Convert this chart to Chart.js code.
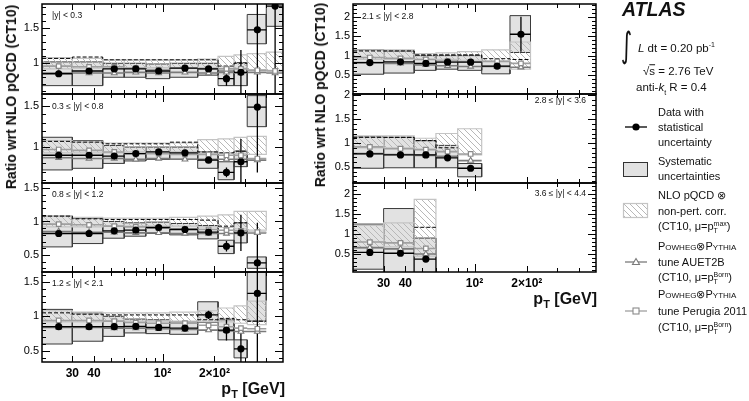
<!DOCTYPE html>
<html>
<head>
<meta charset="utf-8">
<script src="https://cdn.jsdelivr.net/npm/chart.js@4.4.1/dist/chart.umd.min.js"></script>
<style>
  body { margin: 0; background: #fff; overflow: hidden; }
  #wrap { position: relative; width: 749px; height: 401px; font-family: "Liberation Sans", Arial, sans-serif; color: #111; }
  canvas { position: absolute; }
  .t { position: absolute; white-space: nowrap; transform: translateY(-50%); line-height: 1; }
  .ytitle { position: absolute; white-space: nowrap; font-weight: bold; font-size: 14px; transform: translate(-50%, -50%) rotate(-90deg); }
  .xtitle { position: absolute; white-space: nowrap; font-weight: bold; font-size: 16px; text-align: right; }
  .xtitle sub { font-size: 11px; vertical-align: -4px; }
  .plab { font-size: 8.5px; }
  .leg { font-size: 11px; left: 658px; }
  .sc { font-variant: small-caps; }
  .ss { display: inline-flex; flex-direction: column; font-size: 7px; line-height: 7px; vertical-align: 4px; }
</style>
</head>
<body>
<div id="wrap">
  <div class="ytitle" style="left:11px;top:97px">Ratio wrt NLO pQCD (CT10)</div>
  <div class="ytitle" style="left:320px;top:95px">Ratio wrt NLO pQCD (CT10)</div>
  <div class="xtitle" style="left:185px;top:380px;width:100px">p<sub>T</sub> [GeV]</div>
  <div class="xtitle" style="left:497px;top:290px;width:100px">p<sub>T</sub> [GeV]</div>

  <div class="t plab" style="left:52px;top:15px">|y| &lt; 0.3</div>
  <div class="t plab" style="left:52px;top:106px">0.3 ≤ |y| &lt; 0.8</div>
  <div class="t plab" style="left:52px;top:194px">0.8 ≤ |y| &lt; 1.2</div>
  <div class="t plab" style="left:52px;top:283px">1.2 ≤ |y| &lt; 2.1</div>
  <div class="t plab" style="left:362px;top:16px">2.1 ≤ |y| &lt; 2.8</div>
  <div class="t plab" style="left:486px;top:100px;width:100px;text-align:right">2.8 ≤ |y| &lt; 3.6</div>
  <div class="t plab" style="left:486px;top:193px;width:100px;text-align:right">3.6 ≤ |y| &lt; 4.4</div>

  <div class="t" style="left:622px;top:10px;font-size:19.5px;font-weight:bold;font-style:italic">ATLAS</div>
  <div class="t" style="left:620px;top:45px;font-size:24px;font-family:'DejaVu Sans';transform:translateY(-50%) scale(0.9,1.45)">∫</div>
  <div class="t" style="left:638px;top:48px;font-size:11.5px"><i>L</i> dt = 0.20 pb<sup style="font-size:7px">-1</sup></div>
  <div class="t" style="left:643px;top:72px;font-size:11.5px">√<span style="text-decoration:overline">s</span> = 2.76 TeV</div>
  <div class="t" style="left:636px;top:89px;font-size:11.5px">anti-<i>k</i><sub style="font-size:7px">t</sub> R = 0.4</div>

  <div class="t leg" style="top:112px">Data with</div>
  <div class="t leg" style="top:127px">statistical</div>
  <div class="t leg" style="top:142px">uncertainty</div>
  <div class="t leg" style="top:161px">Systematic</div>
  <div class="t leg" style="top:176px">uncertainties</div>
  <div class="t leg" style="top:195px">NLO pQCD ⊗</div>
  <div class="t leg" style="top:211px">non-pert. corr.</div>
  <div class="t leg" style="top:227px">(CT10, μ=p<span class="ss"><span>max</span><span>T</span></span>)</div>
  <div class="t leg" style="top:246px"><span class="sc">Powheg</span>⊗<span class="sc">Pythia</span></div>
  <div class="t leg" style="top:262px">tune AUET2B</div>
  <div class="t leg" style="top:278px">(CT10, μ=p<span class="ss"><span>Born</span><span>T</span></span>)</div>
  <div class="t leg" style="top:294px"><span class="sc">Powheg</span>⊗<span class="sc">Pythia</span></div>
  <div class="t leg" style="top:311px">tune Perugia 2011</div>
  <div class="t leg" style="top:328px">(CT10, μ=p<span class="ss"><span>Born</span><span>T</span></span>)</div>

  <svg width="749" height="401" style="position:absolute;left:0;top:0;pointer-events:none">
    <defs>
      <pattern id="hatch" width="6" height="6" patternUnits="userSpaceOnUse">
        <path d="M0,0 L6,6 M-1,5 L1,7 M5,-1 L7,1" stroke="#b8b8b8" stroke-width="1"/>
      </pattern>
    </defs>
    <line x1="625" y1="127" x2="647" y2="127" stroke="#000" stroke-width="1.3"/>
    <circle cx="636" cy="127" r="3.6" fill="#000"/>
    <rect x="623.5" y="162.5" width="24" height="14" fill="#e2e2e2" stroke="#333"/>
    <rect x="623.5" y="203.5" width="24" height="14" fill="url(#hatch)" stroke="#c4c4c4" stroke-width="1.2"/>
    <line x1="625" y1="262" x2="647" y2="262" stroke="#7a7a7a" stroke-width="1.3"/>
    <path d="M636,258.5 L639.5,264.5 L632.5,264.5 Z" fill="#fff" stroke="#7a7a7a" stroke-width="1.1"/>
    <line x1="625" y1="311" x2="647" y2="311" stroke="#a0a0a0" stroke-width="1.3"/>
    <rect x="633" y="308" width="6" height="6" fill="#fff" stroke="#8a8a8a" stroke-width="1.1"/>
  </svg>
</div>
<script>
Chart.defaults.font.family = "'Liberation Sans', Arial, sans-serif";

// pT bins (GeV)
const edges = [20, 30, 45, 60, 80, 110, 160, 210, 260, 310, 400, 500];
const centers = [25, 37.5, 52.5, 70, 95, 135, 185, 235, 285, 355, 450];
const xTicks = [30, 40, 100, 200];
const xTickLabels = ['30', '40', '10²', '2×10²'];
const xMinorTicks = [30, 40, 50, 60, 70, 80, 90, 100, 200, 300, 400];

// |y| < 0.3
const y1Data = [0.85, 0.89, 0.92, 0.92, 0.89, 0.93, 0.92, 0.78, 0.87, 1.48, 1.82];
const y1Stat = [0.01, 0.01, 0.01, 0.01, 0.015, 0.02, 0.03, 0.1, 0.32, 1.0, 1.3];
const y1SysLo = [0.68, 0.68, 0.80, 0.80, 0.78, 0.80, 0.83, 0.68, 0.68, 1.28, 1.53];
const y1SysHi = [1.02, 1.02, 1.0, 1.0, 0.99, 1.0, 1.0, 0.89, 1.01, 1.70, 2.1];
const y1NloLo = [0.92, 0.93, 0.93, 0.94, 0.94, 0.94, 0.94, 0.93, 0.93, 0.91, 0.90];
const y1NloHi = [1.08, 1.07, 1.05, 1.05, 1.05, 1.05, 1.06, 1.10, 1.12, 1.14, 1.16];
const y1Dash = [1.07, 1.09, 1.05, 1.05, 1.05, 1.05, 1.05, 0.96, 1.0, null, null];
const y1Perugia = [0.96, 0.95, 0.95, 0.93, 0.91, 0.93, 0.92, 0.92, 0.92, 0.90, 0.89];
const y1Auet = [0.86, 0.86, 0.86, 0.87, 0.86, 0.87, 0.86, 0.87, 0.86, 0.87, 0.86];

// 0.3 <= |y| < 0.8
const y2Data = [0.90, 0.90, 0.89, 0.92, 0.94, 0.93, 0.84, 0.69, 0.82, 1.49];
const y2Stat = [0.01, 0.01, 0.01, 0.01, 0.015, 0.02, 0.03, 0.06, 0.28, 0.8];
const y2SysLo = [0.72, 0.74, 0.80, 0.83, 0.85, 0.85, 0.74, 0.60, 0.76, 1.25];
const y2SysHi = [1.12, 1.08, 1.02, 1.0, 1.0, 1.0, 0.94, 0.82, 0.95, 1.63];
const y2NloLo = [0.93, 0.93, 0.93, 0.94, 0.94, 0.94, 0.93, 0.92, 0.92, 0.91];
const y2NloHi = [1.08, 1.07, 1.05, 1.05, 1.05, 1.05, 1.09, 1.10, 1.12, 1.13];
const y2Dash = [1.07, 1.06, 1.04, 1.04, 1.04, 1.06, 0.94, 0.93, 0.95, null];
const y2Perugia = [0.97, 0.96, 0.94, 0.92, 0.92, 0.91, 0.91, 0.90, 0.90, 0.86];
const y2Auet = [0.87, 0.86, 0.86, 0.85, 0.86, 0.85, 0.85, 0.85, 0.85, 0.84];

// 0.8 <= |y| < 1.2
const y3Data = [0.82, 0.82, 0.86, 0.87, 0.91, 0.88, 0.84, 0.63, 0.83, 0.38];
const y3Stat = [0.01, 0.01, 0.01, 0.01, 0.015, 0.02, 0.03, 0.08, 0.27, 0.6];
const y3SysLo = [0.62, 0.67, 0.75, 0.78, 0.82, 0.80, 0.74, 0.52, 0.68, 0.30];
const y3SysHi = [1.08, 1.05, 1.0, 0.98, 0.99, 0.97, 0.94, 0.72, 0.98, 0.47];
const y3NloLo = [0.92, 0.92, 0.93, 0.93, 0.93, 0.93, 0.92, 0.91, 0.89, 0.87];
const y3NloHi = [1.08, 1.06, 1.05, 1.05, 1.05, 1.06, 1.08, 1.10, 1.15, 1.15];
const y3Dash = [1.08, 1.04, 1.03, 1.03, 1.03, 1.03, 1.02, 0.93, 0.98, null];
const y3Perugia = [0.96, 0.95, 0.93, 0.92, 0.90, 0.89, 0.88, 0.87, 0.86, 0.84];
const y3Auet = [0.85, 0.84, 0.84, 0.83, 0.83, 0.82, 0.82, 0.82, 0.82, 0.83];

// 1.2 <= |y| < 2.1
const y4Data = [0.85, 0.85, 0.85, 0.855, 0.84, 0.83, 1.02, 0.80, 0.53, 1.33];
const y4Stat = [0.01, 0.01, 0.01, 0.015, 0.02, 0.02, 0.06, 0.15, 0.3, 1.0];
const y4SysLo = [0.60, 0.64, 0.71, 0.76, 0.75, 0.74, 0.91, 0.66, 0.40, 0.93];
const y4SysHi = [1.10, 1.05, 1.0, 0.96, 0.95, 0.92, 1.21, 0.95, 0.66, 1.75];
const y4NloLo = [0.92, 0.92, 0.93, 0.93, 0.93, 0.93, 0.92, 0.92, 0.90, 0.88];
const y4NloHi = [1.08, 1.06, 1.05, 1.05, 1.05, 1.06, 1.08, 1.12, 1.15, 1.22];
const y4Dash = [1.05, 1.03, 1.02, 1.02, 1.02, 1.02, 0.95, 0.97, 0.95, 0.93];
const y4Perugia = [0.94, 0.94, 0.93, 0.91, 0.90, 0.90, 0.87, 0.85, 0.83, 0.82];
const y4Auet = [0.84, 0.84, 0.83, 0.83, 0.82, 0.81, 0.80, 0.79, 0.78, 0.78];

// 2.1 <= |y| < 2.8
const y5Data = [0.82, 0.84, 0.80, 0.83, 0.83, 0.73, 1.55];
const y5Stat = [0.01, 0.01, 0.015, 0.02, 0.03, 0.04, 0.45];
const y5SysLo = [0.52, 0.55, 0.62, 0.65, 0.62, 0.53, 1.08];
const y5SysHi = [1.15, 1.12, 1.0, 1.0, 1.0, 0.85, 2.03];
const y5NloLo = [0.90, 0.90, 0.90, 0.90, 0.88, 0.85, 0.65];
const y5NloHi = [1.15, 1.15, 1.05, 1.07, 1.10, 1.15, 1.35];
const y5Dash = [1.12, 1.12, 1.02, 1.02, 1.02, 0.92, 0.90];
const y5Perugia = [0.95, 0.93, 0.90, 0.86, 0.84, 0.85, 0.80];
const y5Auet = [0.82, 0.80, 0.76, 0.74, 0.72, 0.72, 0.70];

// 2.8 <= |y| < 3.6
const y6Data = [0.77, 0.75, 0.75, 0.69, 0.47];
const y6Stat = [0.01, 0.01, 0.02, 0.03, 0.05];
const y6SysLo = [0.47, 0.48, 0.48, 0.48, 0.29];
const y6SysHi = [1.13, 1.12, 1.05, 0.95, 0.57];
const y6NloLo = [0.90, 0.90, 0.88, 0.82, 0.75];
const y6NloHi = [1.15, 1.15, 1.10, 1.20, 1.30];
const y6Dash = [1.12, 1.12, 1.05, 0.90, null];
const y6Perugia = [0.92, 0.88, 0.86, 0.82, 0.77];
const y6Auet = [0.78, 0.76, 0.74, 0.72, 0.63];

// 3.6 <= |y| < 4.4
const y7Data = [0.54, 0.52, 0.375];
const y7Stat = [0.02, 0.03, 0.04];
const y7SysLo = [0.12, 0.02, 0.02];
const y7SysHi = [1.25, 1.64, 0.9];
const y7NloLo = [0.65, 0.68, 0.45];
const y7NloHi = [1.22, 1.28, 1.87];
const y7Dash = [null, null, 1.17];
const y7Perugia = [0.80, 0.78, 0.64];
const y7Auet = [0.66, 0.63, 0.50];

// panel layout
const panels = [
  {left: 0, width: 292, top: 4, h: 90, yMin: 0.56, yMax: 1.85, yTicks: [1, 1.5],
   s: [y1Data, y1Stat, y1SysLo, y1SysHi, y1NloLo, y1NloHi, y1Dash, y1Perugia, y1Auet]},
  {left: 0, width: 292, top: 94, h: 89, yMin: 0.56, yMax: 1.65, yTicks: [1, 1.5],
   s: [y2Data, y2Stat, y2SysLo, y2SysHi, y2NloLo, y2NloHi, y2Dash, y2Perugia, y2Auet]},
  {left: 0, width: 292, top: 183, h: 89, yMin: 0.245, yMax: 1.575, yTicks: [0.5, 1, 1.5],
   s: [y3Data, y3Stat, y3SysLo, y3SysHi, y3NloLo, y3NloHi, y3Dash, y3Perugia, y3Auet]},
  {left: 0, width: 292, top: 272, h: 90, yMin: 0.34, yMax: 1.64, yTicks: [0.5, 1, 1.5], xLabels: true,
   s: [y4Data, y4Stat, y4SysLo, y4SysHi, y4NloLo, y4NloHi, y4Dash, y4Perugia, y4Auet]},
  {left: 311, width: 294, top: 4, h: 90, yMin: 0.01, yMax: 2.33, yTicks: [0.5, 1, 1.5, 2],
   s: [y5Data, y5Stat, y5SysLo, y5SysHi, y5NloLo, y5NloHi, y5Dash, y5Perugia, y5Auet]},
  {left: 311, width: 294, top: 94, h: 89, yMin: 0.16, yMax: 2.03, yTicks: [0.5, 1, 1.5, 2],
   s: [y6Data, y6Stat, y6SysLo, y6SysHi, y6NloLo, y6NloHi, y6Dash, y6Perugia, y6Auet]},
  {left: 311, width: 294, top: 183, h: 89, yMin: 0.05, yMax: 2.28, yTicks: [0.5, 1, 1.5, 2], xLabels: true,
   s: [y7Data, y7Stat, y7SysLo, y7SysHi, y7NloLo, y7NloHi, y7Dash, y7Perugia, y7Auet]}
];

// point builders
function boxes(lo, hi) {
  const pts = [];
  lo.forEach((l, i) => {
    if (l == null) return;
    const a = edges[i], b = edges[i + 1], h = hi[i];
    pts.push({x: a, y: l}, {x: a, y: h}, {x: b, y: h}, {x: b, y: l}, {x: a, y: l}, {x: a, y: null});
  });
  return pts;
}
function bars(v) {
  const pts = [];
  v.forEach((y, i) => pts.push({x: edges[i], y}, {x: edges[i + 1], y}, {x: edges[i], y: null}));
  return pts;
}
function steps(v) {
  const pts = [];
  v.forEach((y, i) => pts.push({x: edges[i], y}, {x: edges[i + 1], y}));
  return pts;
}
function errs(v, e) {
  const pts = [];
  v.forEach((y, i) => pts.push({x: centers[i], y: y - e[i]}, {x: centers[i], y: y + e[i]}, {x: centers[i], y: null}));
  return pts;
}
function marks(v) {
  return v.map((y, i) => ({x: centers[i], y}));
}

const tile = document.createElement('canvas');
tile.width = tile.height = 6;
const tg = tile.getContext('2d');
tg.strokeStyle = '#b8b8b8';
tg.lineWidth = 1;
tg.beginPath();
tg.moveTo(0, 0); tg.lineTo(6, 6);
tg.moveTo(-1, 5); tg.lineTo(1, 7);
tg.moveTo(5, -1); tg.lineTo(7, 1);
tg.stroke();
const hatch = tg.createPattern(tile, 'repeat');

const framePlugin = {
  id: 'frame',
  afterDatasetsDraw(chart) {
    const {ctx, chartArea: a, scales: {x, y}} = chart;
    ctx.save();
    ctx.strokeStyle = '#000';
    ctx.lineWidth = 1;
    ctx.beginPath();
    for (const v of xMinorTicks) {
      const px = Math.round(x.getPixelForValue(v)) + 0.5;
      const len = v === 100 ? 8 : (xTicks.includes(v) ? 6 : 4);
      ctx.moveTo(px, a.bottom); ctx.lineTo(px, a.bottom - len);
      ctx.moveTo(px, a.top); ctx.lineTo(px, a.top + len);
    }
    for (let k = Math.ceil(y.min * 10); k <= Math.floor(y.max * 10); k++) {
      const py = Math.round(y.getPixelForValue(k / 10)) + 0.5;
      const len = k % 5 === 0 ? 8 : 4;
      ctx.moveTo(a.left, py); ctx.lineTo(a.left + len, py);
      ctx.moveTo(a.right, py); ctx.lineTo(a.right - len, py);
    }
    ctx.stroke();
    ctx.lineWidth = 1.5;
    ctx.strokeRect(a.left, a.top, a.right - a.left, a.bottom - a.top);
    ctx.restore();
  }
};

const wrap = document.getElementById('wrap');
panels.forEach(p => {
  const [data, stat, sysLo, sysHi, nloLo, nloHi, dash, perugia, auet] = p.s;
  const cv = document.createElement('canvas');
  const xh = p.xLabels ? 26 : 0;
  cv.width = p.width;
  cv.height = p.h + 10 + (p.xLabels ? xh : 10);
  cv.style.left = p.left + 'px';
  cv.style.top = (p.top - 10) + 'px';
  wrap.insertBefore(cv, wrap.firstChild);

  const line = {showLine: true, pointRadius: 0, spanGaps: false, fill: false, tension: 0};
  new Chart(cv, {
    type: 'line',
    data: {
      datasets: [
        {data: marks(data), showLine: false, pointRadius: 3.6, pointBackgroundColor: '#000', pointBorderColor: '#000', pointBorderWidth: 0},
        {data: marks(perugia), showLine: false, pointStyle: 'rect', pointRadius: 3.2, pointBackgroundColor: '#fff', pointBorderColor: '#8a8a8a', pointBorderWidth: 1.2},
        {data: marks(auet), showLine: false, pointStyle: 'triangle', pointRadius: 3.3, pointBackgroundColor: '#fff', pointBorderColor: '#7a7a7a', pointBorderWidth: 1.1},
        {...line, data: errs(data, stat).concat(bars(data)), borderColor: '#000', borderWidth: 1.3},
        {...line, data: bars(perugia), borderColor: '#a0a0a0', borderWidth: 1.6},
        {...line, data: bars(auet), borderColor: '#7a7a7a', borderWidth: 1.6},
        {...line, data: steps(dash), borderColor: '#000', borderWidth: 1, borderDash: [4, 2]},
        {...line, data: boxes(nloLo, nloHi), fill: 'shape', backgroundColor: hatch, borderColor: '#c4c4c4', borderWidth: 1.2},
        {...line, data: boxes(sysLo, sysHi), fill: 'shape', backgroundColor: '#e2e2e2', borderColor: '#3a3a3a', borderWidth: 1}
      ]
    },
    options: {
      responsive: false,
      animation: false,
      events: [],
      layout: {padding: {top: 10, bottom: p.xLabels ? 0 : 10, left: 0, right: 9}},
      plugins: {legend: {display: false}, tooltip: {enabled: false}},
      scales: {
        x: {
          type: 'logarithmic', min: 20, max: 500, offset: false,
          grid: {display: false, drawTicks: false}, border: {display: false},
          ticks: {display: !!p.xLabels, autoSkip: false, maxRotation: 0, padding: 4, color: '#000',
                  font: {size: 12, weight: 'bold'}, callback: (v, i) => xTickLabels[i]},
          afterBuildTicks: s => { s.ticks = xTicks.map(value => ({value})); },
          afterFit: s => { s.height = xh; s.paddingLeft = 0; s.paddingRight = 0; }
        },
        y: {
          min: p.yMin, max: p.yMax,
          grid: {display: false, drawTicks: false}, border: {display: false},
          ticks: {padding: 3, color: '#000', font: {size: 11}, callback: v => String(v)},
          afterBuildTicks: s => { s.ticks = p.yTicks.map(value => ({value})); },
          afterFit: s => { s.width = 42; s.paddingTop = 0; s.paddingBottom = 0; }
        }
      }
    },
    plugins: [framePlugin]
  });
});
</script>
</body>
</html>
